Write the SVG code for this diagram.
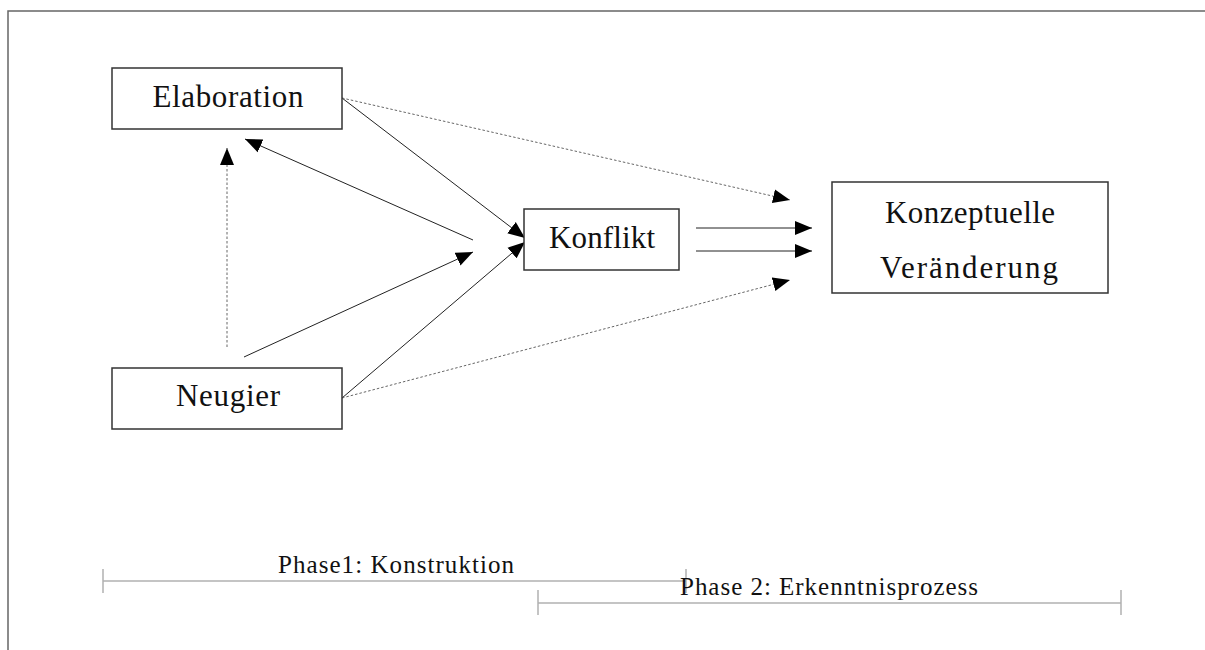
<svg xmlns="http://www.w3.org/2000/svg" width="1205" height="650" viewBox="0 0 1205 650">
<style>
.box{fill:#fff;stroke:#333;stroke-width:1.5}
.lbl{font-family:"Liberation Serif","DejaVu Serif",serif;font-size:31px;fill:#111;text-anchor:middle}
.plbl{font-family:"Liberation Serif","DejaVu Serif",serif;font-size:25px;fill:#111;text-anchor:middle}
.solid{stroke:#222;stroke-width:1;fill:none}
.dot{stroke:#666;stroke-width:1;stroke-dasharray:2.5,2;fill:none}
.bar{stroke:#c4c4c4;stroke-width:2;fill:none}
.tick{stroke:#b0b0b0;stroke-width:1.5;fill:none}
</style>
<defs>
<marker id="ah" markerUnits="userSpaceOnUse" markerWidth="18" markerHeight="16" refX="17" refY="7" orient="auto" viewBox="0 0 18 14">
<path d="M0,0 L17,7 L0,14 z" fill="#000"/>
</marker>
</defs>
<rect width="1205" height="650" fill="#fff"/>
<path d="M8,650 V11 H1205" fill="none" stroke="#666" stroke-width="1.5"/>
<g id="connectors">
<line class="solid" x1="342" y1="98" x2="525" y2="238" marker-end="url(#ah)"/>
<line class="solid" x1="473" y1="240" x2="245" y2="139" marker-end="url(#ah)"/>
<line class="solid" x1="244" y1="357" x2="473" y2="252" marker-end="url(#ah)"/>
<line class="solid" x1="342" y1="398" x2="525" y2="242" marker-end="url(#ah)"/>
<line class="dot" x1="227" y1="347" x2="227" y2="148" marker-end="url(#ah)"/>
<line class="dot" x1="342" y1="98" x2="790" y2="200" marker-end="url(#ah)"/>
<line class="dot" x1="342" y1="398" x2="790" y2="280" marker-end="url(#ah)"/>
<line class="solid" x1="696" y1="228" x2="812" y2="228" marker-end="url(#ah)"/>
<line class="solid" x1="696" y1="251" x2="812" y2="251" marker-end="url(#ah)"/>
</g>
<g id="elaboration">
<rect class="box" x="112" y="68" width="230" height="61"/>
<text class="lbl" x="228" y="107" textLength="151" lengthAdjust="spacing">Elaboration</text>
</g>
<g id="neugier">
<rect class="box" x="112" y="368" width="230" height="61"/>
<text class="lbl" x="228" y="406" textLength="104" lengthAdjust="spacing">Neugier</text>
</g>
<g id="konflikt">
<rect class="box" x="524" y="209" width="155" height="61"/>
<text class="lbl" x="602" y="248" textLength="106" lengthAdjust="spacing">Konflikt</text>
</g>
<g id="konzeptuelle">
<rect class="box" x="832" y="182" width="276" height="111"/>
<text class="lbl" x="970" y="223" textLength="170" lengthAdjust="spacing">Konzeptuelle</text>
<text class="lbl" x="969" y="278" textLength="178" lengthAdjust="spacing">Veränderung</text>
</g>
<g id="phase1">
<line class="bar" x1="103" y1="581" x2="686" y2="581"/>
<line class="tick" x1="103" y1="569" x2="103" y2="593"/>
<line class="tick" x1="686" y1="569" x2="686" y2="593"/>
<text class="plbl" x="396" y="573" textLength="236" lengthAdjust="spacing">Phase1: Konstruktion</text>
</g>
<g id="phase2">
<line class="bar" x1="538" y1="603" x2="1121" y2="603"/>
<line class="tick" x1="538" y1="590" x2="538" y2="615"/>
<line class="tick" x1="1121" y1="590" x2="1121" y2="615"/>
<text class="plbl" x="829" y="595" textLength="298" lengthAdjust="spacing">Phase 2: Erkenntnisprozess</text>
</g>
</svg>
